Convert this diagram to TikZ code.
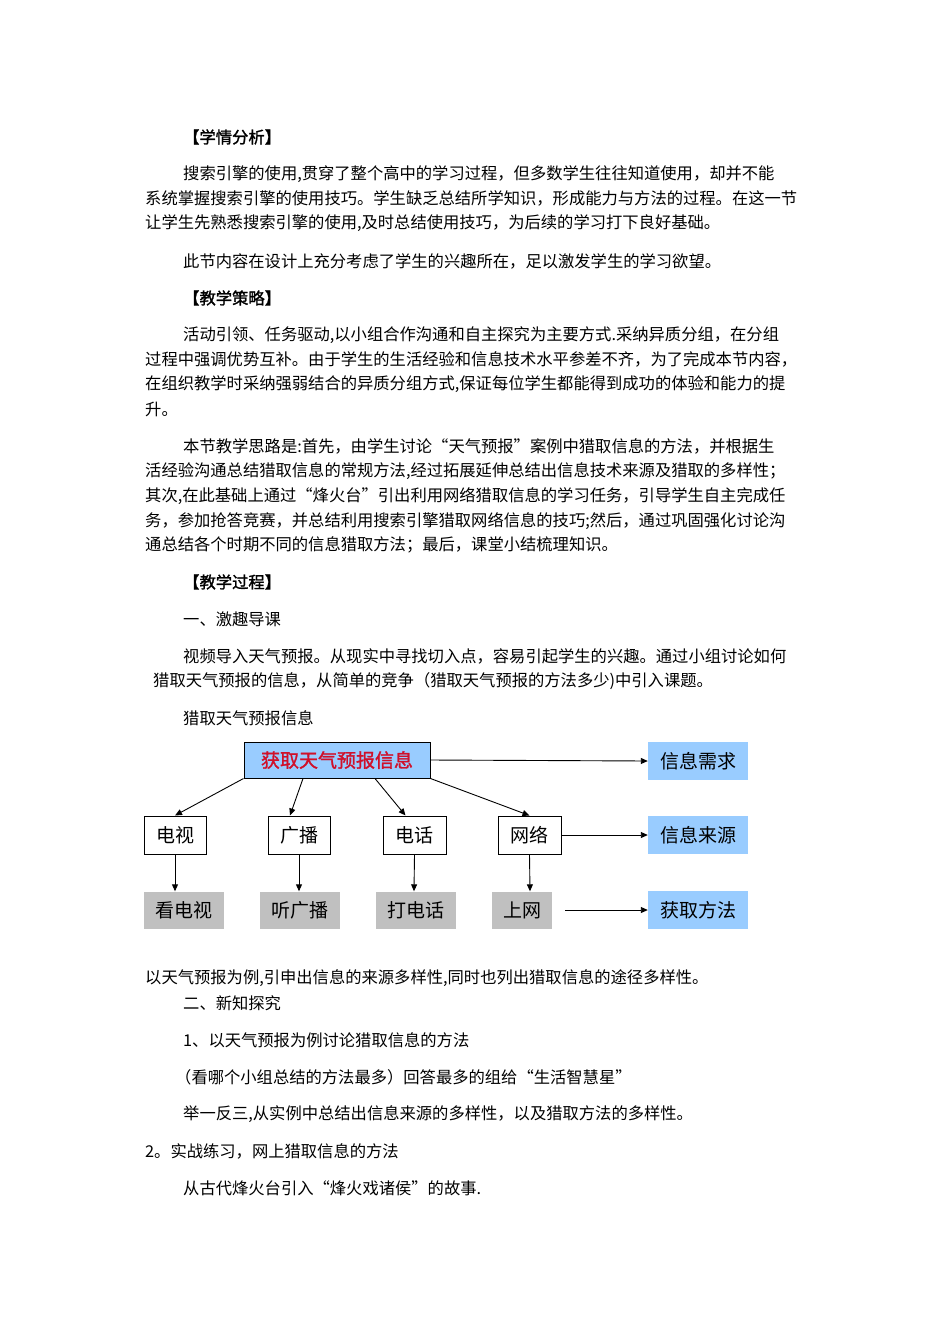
\documentclass[tikz,border=0pt]{standalone}
\usepackage{fontspec}
\setmainfont{Noto Sans CJK SC}
\newfontfamily\cjkb[FakeBold=1.5]{Noto Sans CJK SC}
\usetikzlibrary{arrows.meta}
\definecolor{bl}{HTML}{99CCFF}
\definecolor{gr}{HTML}{C0C0C0}
\definecolor{dr}{HTML}{D0102A}
\begin{document}
\begin{tikzpicture}[x=1pt,y=-1pt,
  tl/.style={anchor=west,inner sep=0pt,font=\fontsize{16.3}{17}\selectfont},
  wb/.style={draw=black,line width=1pt,fill=white,inner sep=0pt,font=\fontsize{19}{19}\selectfont},
  bb/.style={fill=bl,inner sep=0pt,font=\fontsize{19}{19}\selectfont},
  gb/.style={fill=gr,inner sep=0pt,font=\fontsize{19}{19}\selectfont},
  ar/.style={-{Triangle[length=7pt,width=6pt]},line width=0.9pt}]
\useasboundingbox (0,0) rectangle (950,1344);
\node[tl,font=\fontsize{16.3}{17}\selectfont\cjkb] (h1) at (183,137) {【学情分析】};
\node[tl] (l1) at (183,174) {搜索引擎的使用,贯穿了整个高中的学习过程，但多数学生往往知道使用，却并不能};
\node[tl] (l2) at (145,198) {系统掌握搜索引擎的使用技巧。学生缺乏总结所学知识，形成能力与方法的过程。在这一节};
\node[tl] (l3) at (145,223) {让学生先熟悉搜索引擎的使用,及时总结使用技巧，为后续的学习打下良好基础。};
\node[tl] (l4) at (183,261) {此节内容在设计上充分考虑了学生的兴趣所在，足以激发学生的学习欲望。};
\node[tl,font=\fontsize{16.3}{17}\selectfont\cjkb] (h2) at (183,298) {【教学策略】};
\node[tl] (l5) at (183,335) {活动引领、任务驱动,以小组合作沟通和自主探究为主要方式.采纳异质分组，在分组};
\node[tl] (l6) at (145,359) {过程中强调优势互补。由于学生的生活经验和信息技术水平参差不齐，为了完成本节内容，};
\node[tl] (l7) at (145,384) {在组织教学时采纳强弱结合的异质分组方式,保证每位学生都能得到成功的体验和能力的提};
\node[tl] (l8) at (145,409) {升。};
\node[tl] (l9) at (183,446) {本节教学思路是:首先，由学生讨论“天气预报”案例中猎取信息的方法，并根据生};
\node[tl] (l10) at (145,471) {活经验沟通总结猎取信息的常规方法,经过拓展延伸总结出信息技术来源及猎取的多样性；};
\node[tl] (l11) at (145,496) {其次,在此基础上通过“烽火台"引出利用网络猎取信息的学习任务，引导学生自主完成任};
\node[tl] (l12) at (145,521) {务，参加抢答竞赛，并总结利用搜索引擎猎取网络信息的技巧;然后，通过巩固强化讨论沟};
\node[tl] (l13) at (145,545) {通总结各个时期不同的信息猎取方法；最后，课堂小结梳理知识。};
\node[tl,font=\fontsize{16.3}{17}\selectfont\cjkb] (h3) at (183,582) {【教学过程】};
\node[tl] (l14) at (183,619) {一、激趣导课};
\node[tl] (l15) at (183,656) {视频导入天气预报。从现实中寻找切入点，容易引起学生的兴趣。通过小组讨论如何};
\node[tl] (l16) at (153,681) {猎取天气预报的信息，从简单的竞争（猎取天气预报的方法多少)中引入课题。};
\node[tl] (l17) at (183,718) {猎取天气预报信息};
% diagram
\node[wb,fill=bl,minimum width=186pt,minimum height=36pt,text=dr,font=\fontsize{19}{19}\selectfont\cjkb] (top) at (337,760) {获取天气预报信息};
\node[bb,minimum width=100pt,minimum height=38pt] (xq) at (698,761) {信息需求};
\node[bb,minimum width=100pt,minimum height=38pt] (ly) at (698,835) {信息来源};
\node[bb,minimum width=100pt,minimum height=38pt] (ff) at (698,910) {获取方法};
\node[wb,minimum width=62pt,minimum height=38pt] (a1) at (175,835) {电视};
\node[wb,minimum width=62pt,minimum height=38pt] (a2) at (299,835) {广播};
\node[wb,minimum width=63pt,minimum height=38pt] (a3) at (414.5,835) {电话};
\node[wb,minimum width=63pt,minimum height=38pt] (a4) at (529.5,835) {网络};
\node[gb,minimum width=80pt,minimum height=37pt] (b1) at (184,910) {看电视};
\node[gb,minimum width=80pt,minimum height=37pt] (b2) at (300,910) {听广播};
\node[gb,minimum width=80pt,minimum height=37pt] (b3) at (416,910) {打电话};
\node[gb,minimum width=60pt,minimum height=37pt] (b4) at (522,910) {上网};
\coordinate (fs) at (565,910);
\draw[ar] (top.east) -- (xq.west);
\draw[ar] (a4.east) -- (ly.west);
\draw[ar] (fs) -- (ff.west);
\draw[ar] (top.south west) -- (a1.north);
\draw[ar] ([xshift=-34pt]top.south) -- ([xshift=-9pt]a2.north);
\draw[ar] ([xshift=38pt]top.south) -- ([xshift=-9pt]a3.north);
\draw[ar] (top.south east) -- (a4.north);
\draw[ar] (a1.south) -- ([xshift=-9pt]b1.north);
\draw[ar] (a2.south) -- ([xshift=-1pt]b2.north);
\draw[ar] (a3.south) -- ([xshift=-2pt]b3.north);
\draw[ar] (a4.south) -- ([xshift=8pt]b4.north);
% after
\node[tl] (l18) at (145,978) {以天气预报为例,引申出信息的来源多样性,同时也列出猎取信息的途径多样性。};
\node[tl] (l19) at (183,1003) {二、新知探究};
\node[tl] (l20) at (183,1040) {1、以天气预报为例讨论猎取信息的方法};
\node[tl] (l21) at (175,1077) {（看哪个小组总结的方法最多）回答最多的组给“生活智慧星”};
\node[tl] (l22) at (183,1114) {举一反三,从实例中总结出信息来源的多样性，以及猎取方法的多样性。};
\node[tl] (l23) at (145,1151) {2。实战练习，网上猎取信息的方法};
\node[tl] (l24) at (183,1188) {从古代烽火台引入“烽火戏诸侯”的故事.};
\end{tikzpicture}
\end{document}
